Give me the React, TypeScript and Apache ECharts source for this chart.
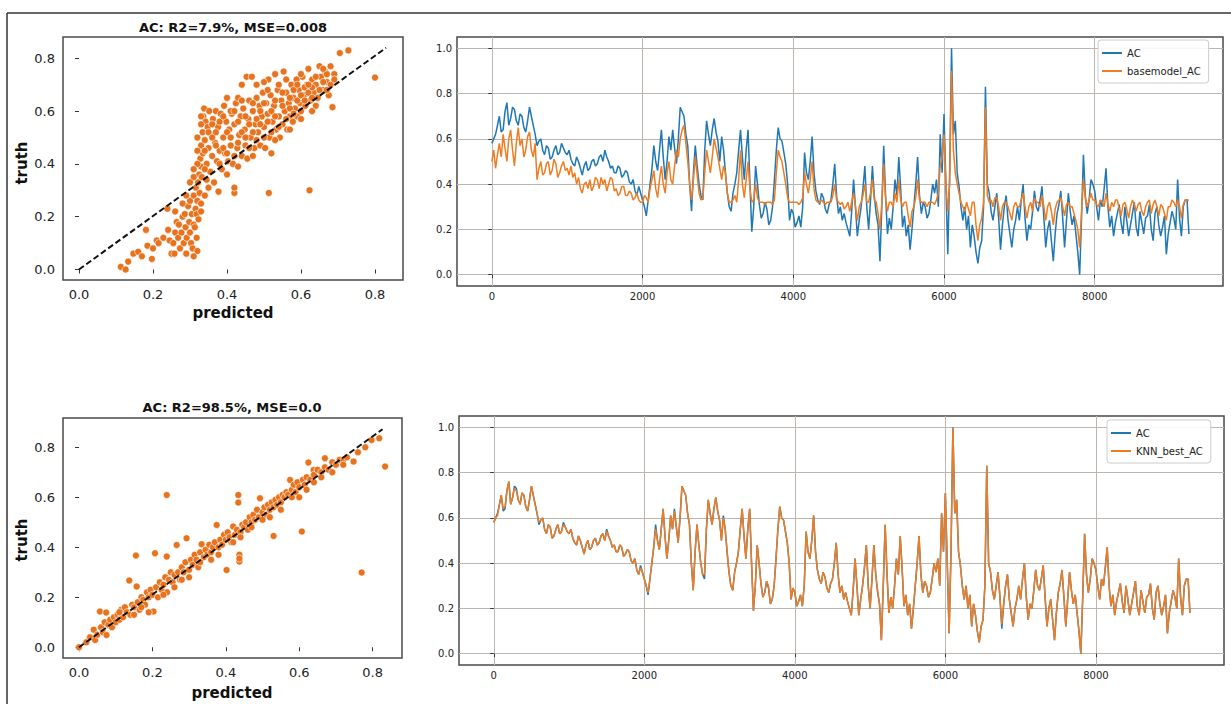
import { useEffect, useRef } from "react"
import * as echarts from "echarts"

// sampling step of the time-series arrays (index * STEP = x)
const STEP = 25

const acValues = [
  0.58, 0.60, 0.62, 0.66, 0.70, 0.63, 0.64, 0.72, 0.76, 0.66, 0.69, 0.74, 0.73, 0.68, 0.66, 0.71, 0.70, 0.65, 0.63, 0.68,
  0.74, 0.70, 0.66, 0.62, 0.57, 0.59, 0.60, 0.55, 0.53, 0.57, 0.56, 0.51, 0.52, 0.55, 0.57, 0.53, 0.54, 0.58, 0.56, 0.54,
  0.53, 0.55, 0.51, 0.49, 0.48, 0.52, 0.50, 0.47, 0.44, 0.48, 0.50, 0.46, 0.47, 0.50, 0.51, 0.48, 0.49, 0.52, 0.53, 0.50,
  0.55, 0.52, 0.50, 0.47, 0.48, 0.45, 0.45, 0.48, 0.47, 0.43, 0.44, 0.46, 0.45, 0.41, 0.40, 0.42, 0.37, 0.35, 0.39, 0.36,
  0.33, 0.30, 0.26, 0.33, 0.40, 0.47, 0.57, 0.50, 0.46, 0.55, 0.64, 0.52, 0.42, 0.50, 0.61, 0.55, 0.64, 0.56, 0.49, 0.60,
  0.74, 0.72, 0.70, 0.62, 0.57, 0.40, 0.28, 0.45, 0.57, 0.48, 0.40, 0.35, 0.33, 0.55, 0.68, 0.62, 0.57, 0.64, 0.69, 0.63,
  0.59, 0.50, 0.61, 0.55, 0.45, 0.36, 0.30, 0.28, 0.36, 0.40, 0.45, 0.55, 0.64, 0.52, 0.42, 0.55, 0.64, 0.40, 0.19, 0.30,
  0.48, 0.40, 0.31, 0.25, 0.27, 0.32, 0.29, 0.22, 0.24, 0.30, 0.42, 0.55, 0.65, 0.60, 0.59, 0.54, 0.49, 0.40, 0.24, 0.29,
  0.27, 0.21, 0.23, 0.26, 0.21, 0.30, 0.54, 0.45, 0.42, 0.50, 0.61, 0.45, 0.37, 0.33, 0.31, 0.36, 0.34, 0.29, 0.27, 0.31,
  0.33, 0.40, 0.49, 0.35, 0.27, 0.30, 0.24, 0.27, 0.23, 0.20, 0.17, 0.28, 0.42, 0.30, 0.17, 0.24, 0.30, 0.38, 0.48, 0.30,
  0.20, 0.33, 0.48, 0.35, 0.27, 0.22, 0.06, 0.30, 0.57, 0.35, 0.18, 0.25, 0.20, 0.30, 0.42, 0.35, 0.52, 0.38, 0.21, 0.26,
  0.17, 0.22, 0.11, 0.20, 0.30, 0.40, 0.52, 0.35, 0.27, 0.32, 0.30, 0.25, 0.27, 0.33, 0.40, 0.36, 0.42, 0.30, 0.62, 0.45,
  0.71, 0.40, 0.09, 0.45, 1.00, 0.62, 0.68, 0.45, 0.39, 0.30, 0.24, 0.30, 0.20, 0.26, 0.12, 0.22, 0.17, 0.10, 0.05, 0.12,
  0.15, 0.30, 0.83, 0.40, 0.36, 0.28, 0.24, 0.30, 0.36, 0.25, 0.11, 0.22, 0.30, 0.35, 0.24, 0.18, 0.12, 0.20, 0.24, 0.30,
  0.24, 0.33, 0.40, 0.25, 0.15, 0.22, 0.20, 0.28, 0.37, 0.30, 0.28, 0.33, 0.39, 0.25, 0.12, 0.20, 0.24, 0.15, 0.06, 0.18,
  0.27, 0.31, 0.37, 0.25, 0.12, 0.24, 0.36, 0.28, 0.22, 0.26, 0.18, 0.10, 0.00, 0.25, 0.53, 0.35, 0.27, 0.33, 0.42, 0.40,
  0.37, 0.30, 0.24, 0.33, 0.30, 0.38, 0.47, 0.30, 0.21, 0.26, 0.17, 0.23, 0.27, 0.31, 0.23, 0.18, 0.30, 0.24, 0.17, 0.22,
  0.27, 0.32, 0.21, 0.17, 0.28, 0.23, 0.18, 0.25, 0.26, 0.31, 0.20, 0.15, 0.27, 0.30, 0.22, 0.17, 0.21, 0.26, 0.09, 0.18,
  0.23, 0.28, 0.25, 0.20, 0.42, 0.25, 0.17, 0.30, 0.33, 0.33, 0.18,
]

const basemodelValues = [
  0.50, 0.55, 0.47, 0.53, 0.58, 0.52, 0.62, 0.56, 0.50, 0.60, 0.64, 0.55, 0.48, 0.58, 0.65, 0.57, 0.60, 0.52, 0.55, 0.61,
  0.63, 0.55, 0.52, 0.58, 0.42, 0.47, 0.50, 0.44, 0.45, 0.49, 0.50, 0.44, 0.46, 0.51, 0.49, 0.43, 0.45, 0.48, 0.50, 0.46,
  0.47, 0.44, 0.48, 0.43, 0.45, 0.40, 0.43, 0.38, 0.36, 0.40, 0.41, 0.38, 0.42, 0.37, 0.39, 0.43, 0.42, 0.38, 0.43, 0.40,
  0.42, 0.37, 0.40, 0.43, 0.42, 0.37, 0.38, 0.35, 0.36, 0.39, 0.39, 0.35, 0.35, 0.37, 0.36, 0.33, 0.34, 0.36, 0.33, 0.32,
  0.32, 0.35, 0.34, 0.32, 0.38, 0.42, 0.46, 0.38, 0.34, 0.42, 0.48, 0.40, 0.36, 0.45, 0.50, 0.42, 0.40, 0.48, 0.55, 0.52,
  0.60, 0.64, 0.66, 0.58, 0.50, 0.40, 0.33, 0.42, 0.52, 0.44, 0.36, 0.33, 0.34, 0.45, 0.55, 0.50, 0.45, 0.52, 0.60, 0.56,
  0.52, 0.47, 0.42, 0.48, 0.45, 0.36, 0.32, 0.32, 0.33, 0.35, 0.32, 0.42, 0.55, 0.40, 0.34, 0.42, 0.50, 0.38, 0.32, 0.33,
  0.40, 0.34, 0.32, 0.32, 0.32, 0.31, 0.32, 0.32, 0.32, 0.31, 0.33, 0.45, 0.55, 0.52, 0.50, 0.45, 0.40, 0.34, 0.32, 0.32,
  0.32, 0.32, 0.32, 0.31, 0.32, 0.34, 0.45, 0.40, 0.36, 0.42, 0.50, 0.38, 0.33, 0.32, 0.32, 0.33, 0.32, 0.31, 0.32, 0.32,
  0.32, 0.35, 0.40, 0.33, 0.32, 0.31, 0.32, 0.29, 0.30, 0.32, 0.28, 0.32, 0.36, 0.30, 0.24, 0.30, 0.32, 0.35, 0.40, 0.32,
  0.32, 0.36, 0.42, 0.33, 0.32, 0.27, 0.20, 0.32, 0.49, 0.33, 0.28, 0.32, 0.32, 0.30, 0.36, 0.32, 0.42, 0.33, 0.30, 0.32,
  0.32, 0.26, 0.21, 0.28, 0.30, 0.34, 0.42, 0.33, 0.32, 0.32, 0.32, 0.30, 0.32, 0.32, 0.32, 0.31, 0.33, 0.36, 0.48, 0.52,
  0.62, 0.40, 0.28, 0.40, 0.90, 0.55, 0.45, 0.40, 0.36, 0.32, 0.30, 0.28, 0.32, 0.29, 0.26, 0.32, 0.32, 0.22, 0.15, 0.22,
  0.25, 0.32, 0.74, 0.35, 0.32, 0.33, 0.30, 0.34, 0.34, 0.30, 0.24, 0.30, 0.32, 0.32, 0.30, 0.27, 0.24, 0.30, 0.32, 0.30,
  0.30, 0.33, 0.36, 0.30, 0.25, 0.30, 0.32, 0.28, 0.34, 0.32, 0.32, 0.30, 0.35, 0.30, 0.24, 0.30, 0.32, 0.28, 0.22, 0.29,
  0.32, 0.33, 0.34, 0.30, 0.26, 0.31, 0.32, 0.30, 0.30, 0.27, 0.24, 0.20, 0.12, 0.28, 0.42, 0.34, 0.30, 0.33, 0.36, 0.33,
  0.33, 0.31, 0.30, 0.33, 0.32, 0.30, 0.36, 0.31, 0.28, 0.32, 0.30, 0.33, 0.33, 0.29, 0.26, 0.31, 0.32, 0.29, 0.25, 0.30,
  0.33, 0.31, 0.28, 0.31, 0.32, 0.28, 0.26, 0.30, 0.32, 0.33, 0.27, 0.31, 0.33, 0.30, 0.26, 0.31, 0.30, 0.27, 0.24, 0.30,
  0.30, 0.33, 0.32, 0.30, 0.33, 0.30, 0.25, 0.31, 0.33, 0.33, 0.33,
]

const knnBestValues = [
  0.58, 0.60, 0.61, 0.66, 0.70, 0.64, 0.65, 0.72, 0.76, 0.66, 0.69, 0.73, 0.72, 0.68, 0.66, 0.71, 0.70, 0.65, 0.63, 0.68,
  0.74, 0.70, 0.66, 0.62, 0.58, 0.59, 0.60, 0.55, 0.53, 0.57, 0.56, 0.51, 0.52, 0.55, 0.57, 0.53, 0.54, 0.57, 0.56, 0.54,
  0.53, 0.55, 0.51, 0.49, 0.48, 0.52, 0.50, 0.47, 0.44, 0.48, 0.50, 0.46, 0.47, 0.50, 0.51, 0.48, 0.49, 0.52, 0.53, 0.50,
  0.54, 0.52, 0.50, 0.47, 0.48, 0.45, 0.45, 0.48, 0.47, 0.43, 0.44, 0.46, 0.45, 0.41, 0.40, 0.42, 0.37, 0.35, 0.38, 0.36,
  0.33, 0.30, 0.27, 0.33, 0.40, 0.47, 0.55, 0.50, 0.46, 0.55, 0.64, 0.52, 0.42, 0.50, 0.61, 0.55, 0.63, 0.56, 0.49, 0.60,
  0.74, 0.72, 0.70, 0.62, 0.57, 0.40, 0.28, 0.45, 0.57, 0.48, 0.40, 0.35, 0.35, 0.55, 0.68, 0.62, 0.57, 0.64, 0.69, 0.63,
  0.59, 0.50, 0.60, 0.55, 0.45, 0.36, 0.30, 0.28, 0.36, 0.40, 0.45, 0.55, 0.64, 0.52, 0.42, 0.55, 0.64, 0.40, 0.19, 0.30,
  0.48, 0.40, 0.31, 0.25, 0.27, 0.32, 0.30, 0.22, 0.24, 0.30, 0.42, 0.55, 0.65, 0.60, 0.59, 0.54, 0.49, 0.40, 0.24, 0.29,
  0.27, 0.21, 0.23, 0.26, 0.21, 0.30, 0.54, 0.45, 0.42, 0.50, 0.61, 0.45, 0.37, 0.33, 0.31, 0.36, 0.34, 0.29, 0.27, 0.31,
  0.33, 0.40, 0.49, 0.35, 0.27, 0.30, 0.24, 0.27, 0.23, 0.20, 0.17, 0.28, 0.42, 0.30, 0.17, 0.24, 0.30, 0.38, 0.48, 0.30,
  0.20, 0.33, 0.48, 0.35, 0.28, 0.22, 0.06, 0.30, 0.57, 0.35, 0.18, 0.25, 0.20, 0.30, 0.42, 0.35, 0.52, 0.38, 0.21, 0.26,
  0.17, 0.22, 0.11, 0.20, 0.30, 0.40, 0.52, 0.35, 0.27, 0.32, 0.30, 0.25, 0.27, 0.33, 0.40, 0.36, 0.42, 0.30, 0.62, 0.45,
  0.71, 0.40, 0.09, 0.45, 1.00, 0.62, 0.68, 0.45, 0.39, 0.30, 0.24, 0.30, 0.20, 0.26, 0.12, 0.22, 0.17, 0.10, 0.05, 0.12,
  0.15, 0.30, 0.83, 0.40, 0.36, 0.28, 0.24, 0.30, 0.36, 0.25, 0.13, 0.22, 0.30, 0.35, 0.24, 0.18, 0.12, 0.20, 0.24, 0.30,
  0.24, 0.33, 0.40, 0.25, 0.15, 0.22, 0.20, 0.28, 0.37, 0.30, 0.28, 0.33, 0.39, 0.25, 0.12, 0.20, 0.24, 0.15, 0.06, 0.18,
  0.27, 0.31, 0.37, 0.25, 0.12, 0.24, 0.36, 0.28, 0.22, 0.26, 0.18, 0.10, 0.00, 0.25, 0.53, 0.35, 0.27, 0.33, 0.42, 0.40,
  0.37, 0.30, 0.24, 0.33, 0.30, 0.38, 0.47, 0.30, 0.21, 0.26, 0.17, 0.23, 0.27, 0.31, 0.23, 0.18, 0.30, 0.24, 0.17, 0.22,
  0.27, 0.32, 0.21, 0.17, 0.28, 0.23, 0.18, 0.25, 0.26, 0.31, 0.20, 0.15, 0.27, 0.30, 0.22, 0.17, 0.21, 0.26, 0.09, 0.18,
  0.23, 0.28, 0.25, 0.20, 0.42, 0.25, 0.17, 0.30, 0.33, 0.33, 0.18,
]

// [predicted, truth]
const basemodelScatter = [
  [0.113, 0.01], [0.126, 0.0], [0.133, 0.03], [0.147, 0.06], [0.16, 0.067], [0.17, 0.05], [0.181, 0.15], [0.185, 0.09],
  [0.197, 0.04], [0.2, 0.08], [0.21, 0.11], [0.215, 0.1], [0.228, 0.12], [0.239, 0.23], [0.241, 0.15], [0.245, 0.11],
  [0.25, 0.06], [0.255, 0.1], [0.258, 0.06], [0.26, 0.14], [0.264, 0.18], [0.268, 0.12], [0.273, 0.08], [0.277, 0.14],
  [0.28, 0.2], [0.283, 0.1], [0.286, 0.21], [0.288, 0.16], [0.291, 0.12], [0.295, 0.24], [0.298, 0.18], [0.3, 0.26],
  [0.3, 0.14], [0.303, 0.1], [0.305, 0.21], [0.307, 0.08], [0.31, 0.28], [0.31, 0.17], [0.313, 0.16], [0.315, 0.23],
  [0.316, 0.31], [0.318, 0.21], [0.318, 0.12], [0.32, 0.07], [0.32, 0.26], [0.322, 0.33], [0.323, 0.19], [0.325, 0.36],
  [0.326, 0.29], [0.328, 0.42], [0.33, 0.39], [0.33, 0.47], [0.332, 0.35], [0.334, 0.52], [0.335, 0.44], [0.336, 0.58],
  [0.338, 0.61], [0.34, 0.49], [0.342, 0.56], [0.345, 0.4], [0.345, 0.34], [0.348, 0.54], [0.35, 0.46], [0.352, 0.6],
  [0.355, 0.37], [0.358, 0.51], [0.36, 0.43], [0.362, 0.57], [0.365, 0.33], [0.368, 0.48], [0.37, 0.6], [0.373, 0.41],
  [0.376, 0.54], [0.377, 0.295], [0.38, 0.45], [0.383, 0.59], [0.386, 0.38], [0.39, 0.5], [0.392, 0.62], [0.395, 0.44],
  [0.398, 0.56], [0.4, 0.65], [0.403, 0.41], [0.406, 0.53], [0.41, 0.47], [0.413, 0.59], [0.416, 0.4], [0.42, 0.29],
  [0.42, 0.31], [0.42, 0.55], [0.424, 0.63], [0.428, 0.46], [0.43, 0.65], [0.433, 0.51], [0.437, 0.58], [0.44, 0.43],
  [0.444, 0.61], [0.448, 0.53], [0.45, 0.47], [0.453, 0.73], [0.455, 0.42], [0.458, 0.57], [0.46, 0.64], [0.464, 0.5],
  [0.467, 0.73], [0.47, 0.6], [0.474, 0.46], [0.477, 0.55], [0.48, 0.65], [0.484, 0.52], [0.488, 0.62], [0.49, 0.47],
  [0.494, 0.58], [0.497, 0.67], [0.5, 0.54], [0.503, 0.46], [0.506, 0.63], [0.51, 0.59], [0.512, 0.72], [0.513, 0.29],
  [0.515, 0.5], [0.518, 0.66], [0.52, 0.44], [0.523, 0.56], [0.527, 0.62], [0.53, 0.74], [0.533, 0.53], [0.537, 0.68],
  [0.54, 0.58], [0.543, 0.5], [0.547, 0.64], [0.55, 0.55], [0.553, 0.75], [0.556, 0.6], [0.56, 0.67], [0.563, 0.53],
  [0.567, 0.63], [0.57, 0.58], [0.574, 0.7], [0.578, 0.56], [0.58, 0.65], [0.584, 0.61], [0.588, 0.72], [0.59, 0.58],
  [0.594, 0.68], [0.598, 0.63], [0.6, 0.6], [0.604, 0.73], [0.608, 0.66], [0.612, 0.62], [0.616, 0.7], [0.62, 0.76],
  [0.623, 0.3], [0.625, 0.64], [0.63, 0.72], [0.634, 0.67], [0.64, 0.7], [0.645, 0.65], [0.65, 0.77], [0.654, 0.73],
  [0.66, 0.68], [0.665, 0.75], [0.67, 0.71], [0.675, 0.66], [0.68, 0.77], [0.685, 0.615], [0.69, 0.74], [0.705, 0.82],
  [0.728, 0.83], [0.8, 0.727],
  [0.34, 0.45], [0.35, 0.52], [0.36, 0.55], [0.37, 0.47], [0.37, 0.52], [0.38, 0.56], [0.38, 0.4], [0.39, 0.46],
  [0.39, 0.58], [0.4, 0.52], [0.4, 0.44], [0.41, 0.6], [0.41, 0.5], [0.42, 0.43], [0.42, 0.6], [0.43, 0.48],
  [0.43, 0.56], [0.44, 0.52], [0.44, 0.64], [0.45, 0.58], [0.45, 0.5], [0.46, 0.46], [0.46, 0.55], [0.47, 0.52],
  [0.47, 0.63], [0.48, 0.57], [0.48, 0.49], [0.49, 0.6], [0.49, 0.55], [0.5, 0.63], [0.5, 0.5], [0.51, 0.56],
  [0.51, 0.68], [0.52, 0.6], [0.52, 0.52], [0.53, 0.64], [0.53, 0.58], [0.54, 0.54], [0.54, 0.7], [0.55, 0.62],
  [0.55, 0.67], [0.56, 0.57], [0.57, 0.65], [0.57, 0.61], [0.58, 0.68], [0.58, 0.59], [0.59, 0.64], [0.59, 0.7],
  [0.6, 0.66], [0.61, 0.69], [0.61, 0.64], [0.62, 0.67], [0.63, 0.69], [0.63, 0.65], [0.64, 0.73], [0.65, 0.68],
  [0.66, 0.71], [0.67, 0.74], [0.68, 0.7], [0.69, 0.72], [0.33, 0.55], [0.34, 0.38], [0.35, 0.31], [0.36, 0.5],
  [0.31, 0.35], [0.32, 0.4], [0.33, 0.25], [0.34, 0.28], [0.32, 0.5], [0.33, 0.58], [0.29, 0.28], [0.3, 0.33],
  [0.28, 0.25], [0.27, 0.17], [0.26, 0.22], [0.31, 0.38], [0.32, 0.45], [0.33, 0.22], [0.31, 0.05], [0.29, 0.06],
  [0.44, 0.7], [0.48, 0.7], [0.5, 0.71], [0.56, 0.72], [0.6, 0.74], [0.66, 0.76], [0.62, 0.7], [0.64, 0.62],
  [0.67, 0.68], [0.4, 0.36], [0.43, 0.39], [0.47, 0.43], [0.53, 0.49], [0.57, 0.53], [0.6, 0.57], [0.63, 0.6],
]

const knnScatter = [
  [0, 0], [0.02, 0.02], [0.03, 0.04], [0.044, 0.029], [0.04, 0.07], [0.05, 0.05], [0.057, 0.143], [0.06, 0.08],
  [0.065, 0.06], [0.07, 0.1], [0.074, 0.139], [0.075, 0.049], [0.08, 0.09], [0.085, 0.11], [0.09, 0.08], [0.095, 0.12],
  [0.1, 0.1], [0.105, 0.13], [0.11, 0.11], [0.115, 0.15], [0.12, 0.12], [0.125, 0.16], [0.13, 0.14], [0.137, 0.267],
  [0.14, 0.13], [0.145, 0.17], [0.15, 0.16], [0.155, 0.367], [0.157, 0.243], [0.16, 0.18], [0.165, 0.15], [0.17, 0.2],
  [0.175, 0.19], [0.18, 0.17], [0.185, 0.22], [0.19, 0.2], [0.195, 0.23], [0.2, 0.21], [0.203, 0.143], [0.207, 0.376],
  [0.21, 0.24], [0.215, 0.2], [0.22, 0.26], [0.225, 0.23], [0.23, 0.25], [0.235, 0.28], [0.239, 0.609], [0.239, 0.363],
  [0.24, 0.22], [0.245, 0.27], [0.25, 0.3], [0.255, 0.26], [0.26, 0.29], [0.266, 0.409], [0.27, 0.3], [0.275, 0.27],
  [0.28, 0.32], [0.285, 0.3], [0.29, 0.34], [0.293, 0.436], [0.3, 0.31], [0.305, 0.35], [0.31, 0.33], [0.315, 0.37],
  [0.32, 0.35], [0.325, 0.32], [0.33, 0.38], [0.334, 0.412], [0.34, 0.36], [0.345, 0.39], [0.35, 0.37], [0.355, 0.41],
  [0.36, 0.38], [0.365, 0.4], [0.37, 0.42], [0.375, 0.489], [0.38, 0.4], [0.385, 0.43], [0.39, 0.41], [0.395, 0.45],
  [0.4, 0.43], [0.402, 0.309], [0.405, 0.46], [0.41, 0.44], [0.415, 0.42], [0.42, 0.483], [0.425, 0.45], [0.43, 0.47],
  [0.434, 0.609], [0.434, 0.579], [0.437, 0.37], [0.437, 0.343], [0.437, 0.355], [0.44, 0.46], [0.445, 0.49], [0.45, 0.48],
  [0.455, 0.5], [0.46, 0.47], [0.465, 0.52], [0.47, 0.5], [0.475, 0.53], [0.48, 0.51], [0.485, 0.55], [0.49, 0.52],
  [0.493, 0.596], [0.5, 0.54], [0.505, 0.56], [0.51, 0.53], [0.515, 0.57], [0.52, 0.55], [0.525, 0.58], [0.53, 0.445],
  [0.53, 0.56], [0.535, 0.59], [0.54, 0.57], [0.545, 0.6], [0.55, 0.58], [0.555, 0.61], [0.56, 0.6], [0.565, 0.62],
  [0.575, 0.669], [0.57, 0.61], [0.58, 0.63], [0.585, 0.65], [0.59, 0.62], [0.595, 0.66], [0.6, 0.64], [0.607, 0.463],
  [0.61, 0.67], [0.615, 0.65], [0.625, 0.739], [0.62, 0.68], [0.63, 0.67], [0.639, 0.709], [0.64, 0.69], [0.65, 0.71],
  [0.66, 0.7], [0.67, 0.756], [0.67, 0.72], [0.68, 0.71], [0.69, 0.74], [0.7, 0.73], [0.71, 0.75], [0.72, 0.749],
  [0.73, 0.76], [0.748, 0.743], [0.76, 0.78], [0.78, 0.8], [0.797, 0.829], [0.818, 0.836], [0.834, 0.723], [0.77, 0.299],
  [0.11, 0.14], [0.17, 0.16], [0.19, 0.14], [0.26, 0.24], [0.28, 0.27], [0.33, 0.34], [0.36, 0.35], [0.42, 0.42],
  [0.47, 0.48], [0.52, 0.52], [0.55, 0.55], [0.58, 0.6], [0.62, 0.63], [0.66, 0.68], [0.69, 0.7], [0.72, 0.73],
  [0.3, 0.28], [0.38, 0.37], [0.44, 0.44], [0.5, 0.51], [0.23, 0.21], [0.15, 0.13], [0.6, 0.6], [0.64, 0.66],
]

const diagonalTop = [[0, 0], [0.83, 0.84]]
const diagonalBottom = [[0, 0], [0.827, 0.872]]

const scatterTicks = [0, 0.2, 0.4, 0.6, 0.8]
const lineXTicks = [0, 2000, 4000, 6000, 8000]
const lineYTicks = [0, 0.2, 0.4, 0.6, 0.8, 1.0]

const titles = ["AC: R2=7.9%, MSE=0.008", "AC: R2=98.5%, MSE=0.0"]

const FONT = '"DejaVu Sans", sans-serif'
const BLUE = "#1f77b4"
const ORANGE = "#f07c22"
const DOT = "#e8731f"

const toXY = (vals: number[]) => vals.map((v, i) => [i * STEP, v])

function scatterAxis(gridIndex: number, min: number, max: number) {
  return {
    type: "value",
    gridIndex,
    min,
    max,
    splitNumber: 5,
    axisLine: { show: false },
    axisTick: { show: true, length: 4, customValues: scatterTicks, lineStyle: { color: "#333" } },
    axisLabel: {
      customValues: scatterTicks,
      margin: 8,
      fontSize: 13,
      color: "#222",
      fontFamily: FONT,
      formatter: (v: number) => v.toFixed(1),
    },
    splitLine: { show: false },
  }
}

function lineAxis(gridIndex: number, min: number, max: number, ticks: number[], isX: boolean) {
  return {
    type: "value",
    gridIndex,
    min,
    max,
    splitNumber: 5,
    axisLine: { show: false },
    axisTick: { show: true, length: 3.5, customValues: ticks, lineStyle: { color: "#333" } },
    axisLabel: {
      customValues: ticks,
      margin: 5,
      fontSize: 10,
      color: "#222",
      fontFamily: FONT,
      formatter: (v: number) => (isX ? String(v) : v.toFixed(1)),
    },
    splitLine: { show: true, lineStyle: { color: "#bdb5b0", width: 1 } },
  }
}

function label(text: string, x: number, y: number, size: number, rotate = false) {
  return {
    type: "text",
    x,
    y,
    rotation: rotate ? Math.PI / 2 : 0,
    style: {
      text,
      align: "center",
      verticalAlign: "middle",
      font: `bold ${size}px ${FONT}`,
      fill: "#111",
    },
    z: 10,
  }
}

function legendBox(names: string[], left: number, top: number) {
  return {
    data: names,
    left,
    top,
    orient: "vertical",
    icon: "rect",
    itemWidth: 20,
    itemHeight: 2,
    itemGap: 6,
    padding: [7, 8, 6, 4],
    borderColor: "#ccc",
    borderWidth: 1,
    borderRadius: 3,
    backgroundColor: "rgba(255,255,255,0.9)",
    textStyle: { fontSize: 10, color: "#222", fontFamily: FONT, lineHeight: 12 },
  }
}

export default function App() {
  const chartRef = useRef<HTMLDivElement>(null)

  useEffect(() => {
    if (!chartRef.current) return
    const chart = echarts.init(chartRef.current, null, { renderer: "svg" })

    const gridStyle = { show: true, borderColor: "#4a4a4a", borderWidth: 1.5, backgroundColor: "#fff" }
    const dotStyle = { color: DOT, borderColor: "#fff", borderWidth: 0.6, opacity: 1 }

    chart.setOption({
      animation: false,
      grid: [
        { left: 63, top: 37, width: 340, height: 243, ...gridStyle },
        { left: 457, top: 37, width: 766, height: 249, ...gridStyle },
        { left: 63, top: 418, width: 339, height: 240, ...gridStyle },
        { left: 459, top: 416, width: 765, height: 249, ...gridStyle },
      ],
      xAxis: [
        scatterAxis(0, -0.0432, 0.8757),
        lineAxis(1, -462, 9702, lineXTicks, true),
        scatterAxis(2, -0.0436, 0.88),
        lineAxis(3, -462, 9702, lineXTicks, true),
      ],
      yAxis: [
        scatterAxis(0, -0.0398, 0.8807),
        lineAxis(1, -0.05, 1.05, lineYTicks, false),
        scatterAxis(2, -0.043, 0.917),
        lineAxis(3, -0.05, 1.05, lineYTicks, false),
      ],
      legend: [legendBox(["AC", "basemodel_AC"], 1098, 40), legendBox(["AC", "KNN_best_AC"], 1107, 420)],
      graphic: [
        { type: "line", shape: { x1: 7, y1: 13, x2: 1231, y2: 13 }, style: { stroke: "#333", lineWidth: 1.5 } },
        { type: "line", shape: { x1: 7, y1: 13, x2: 7, y2: 704 }, style: { stroke: "#333", lineWidth: 1.5 } },
        label(titles[0], 233, 27, 13),
        label(titles[1], 232, 407, 13),
        label("truth", 22, 163, 15, true),
        label("truth", 22, 540, 15, true),
        label("predicted", 233, 313, 15),
        label("predicted", 232, 693, 15),
      ],
      series: [
        {
          type: "scatter",
          xAxisIndex: 0,
          yAxisIndex: 0,
          data: basemodelScatter,
          symbolSize: 7,
          itemStyle: dotStyle,
        },
        {
          type: "line",
          xAxisIndex: 0,
          yAxisIndex: 0,
          data: diagonalTop,
          symbol: "none",
          z: 5,
          lineStyle: { color: "#111", width: 2, type: [6, 3] },
        },
        {
          name: "AC",
          type: "line",
          xAxisIndex: 1,
          yAxisIndex: 1,
          data: toXY(acValues),
          symbol: "none",
          lineStyle: { color: BLUE, width: 1.5 },
          itemStyle: { color: BLUE },
        },
        {
          name: "basemodel_AC",
          type: "line",
          xAxisIndex: 1,
          yAxisIndex: 1,
          data: toXY(basemodelValues),
          symbol: "none",
          lineStyle: { color: ORANGE, width: 1.5 },
          itemStyle: { color: ORANGE },
        },
        {
          type: "scatter",
          xAxisIndex: 2,
          yAxisIndex: 2,
          data: knnScatter,
          symbolSize: 7,
          itemStyle: dotStyle,
        },
        {
          type: "line",
          xAxisIndex: 2,
          yAxisIndex: 2,
          data: diagonalBottom,
          symbol: "none",
          z: 5,
          lineStyle: { color: "#111", width: 2, type: [6, 3] },
        },
        {
          name: "AC",
          type: "line",
          xAxisIndex: 3,
          yAxisIndex: 3,
          data: toXY(acValues),
          symbol: "none",
          lineStyle: { color: BLUE, width: 1.5 },
          itemStyle: { color: BLUE },
        },
        {
          name: "KNN_best_AC",
          type: "line",
          xAxisIndex: 3,
          yAxisIndex: 3,
          data: toXY(knnBestValues),
          symbol: "none",
          lineStyle: { color: ORANGE, width: 1.5 },
          itemStyle: { color: ORANGE },
        },
      ],
    })

    const handleResize = () => chart.resize()
    window.addEventListener("resize", handleResize)

    return () => {
      window.removeEventListener("resize", handleResize)
      chart.dispose()
    }
  }, [])

  return (
    <div
      ref={chartRef}
      style={{ position: "absolute", left: 0, top: 0, width: "1231px", height: "704px", background: "#fff" }}
    />
  )
}
